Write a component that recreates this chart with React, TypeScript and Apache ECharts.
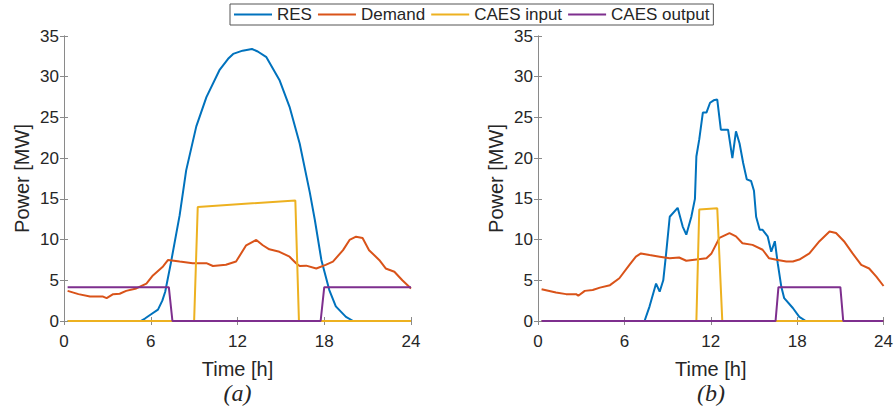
import React, { useEffect, useRef } from "react";
import * as echarts from "echarts";

// ---------- data (hours, MW) ----------
const xTicks = [0, 6, 12, 18, 24];
const yMax = 35;
const seriesNames = ["RES", "Demand", "CAES input", "CAES output"];
const seriesColors = ["#0072BD", "#D95319", "#EDB120", "#7E2F8E"];
const panelLabels = ["(a)", "(b)"];

const resA: number[][] = [
  [0.25, 0], [5.3, 0], [5.6, 0.3], [6.0, 0.8], [6.5, 1.4], [6.8, 2.5], [7.0, 3.6], [7.4, 7.2],
  [8.0, 13], [8.45, 18.5], [9.15, 23.9], [9.85, 27.5], [10.75, 30.8], [11.35, 32.2], [11.7, 32.8],
  [12.35, 33.2], [13.0, 33.4], [13.4, 33.1], [14.0, 32.4], [14.9, 29.6], [15.6, 26.3], [16.3, 21.8],
  [17.0, 15.8], [17.35, 12.4], [17.8, 7.5], [18.35, 3.8], [18.8, 1.8], [19.5, 0.5], [20.0, 0], [24, 0],
];
const demandA: number[][] = [
  [0.25, 3.7], [1.0, 3.3], [1.8, 3.0], [2.7, 3.0], [2.95, 2.8], [3.4, 3.3], [3.85, 3.35], [4.3, 3.7],
  [5.0, 4.0], [5.7, 4.6], [6.15, 5.6], [6.85, 6.7], [7.2, 7.5], [8.0, 7.3], [8.9, 7.1], [9.4, 7.1],
  [9.85, 7.1], [10.3, 6.75], [11.2, 6.9], [11.9, 7.3], [12.6, 9.3], [13.3, 9.95], [13.75, 9.3],
  [14.2, 8.8], [14.9, 8.5], [15.6, 7.9], [16.05, 7.1], [16.3, 6.75], [16.75, 6.8], [17.45, 6.45],
  [18.1, 6.9], [18.6, 7.3], [19.3, 8.7], [19.75, 9.95], [20.2, 10.35], [20.65, 10.2], [21.1, 8.7],
  [21.8, 7.5], [22.25, 6.45], [22.85, 6.05], [23.4, 5.0], [24, 4.0],
];
const caesInA: number[][] = [[0.25, 0], [9.0, 0], [9.25, 14], [16.0, 14.8], [16.25, 0], [24, 0]];
const caesOutA: number[][] = [[0.25, 4.15], [7.25, 4.15], [7.5, 0], [17.75, 0], [18.0, 4.15], [24, 4.15]];

const resB: number[][] = [
  [0.25, 0], [7.4, 0], [7.75, 1.8], [8.2, 4.6], [8.45, 3.6], [8.7, 5.0], [8.9, 8.3], [9.15, 12.8],
  [9.7, 13.9], [10.05, 11.6], [10.3, 10.6], [10.65, 12.8], [10.9, 15], [11.0, 20.2], [11.2, 22.3],
  [11.45, 25.6], [11.7, 25.6], [11.95, 26.8], [12.2, 27.1], [12.45, 27.2], [12.7, 23.5], [13.2, 23.5],
  [13.5, 20], [13.75, 23.3], [14.0, 21.8], [14.25, 19.4], [14.5, 17.4], [14.8, 17.2], [15.0, 16],
  [15.15, 12.8], [15.4, 11.2], [15.6, 11.2], [15.95, 10.4], [16.2, 8.5], [16.45, 9.8], [16.65, 7.1],
  [16.9, 4.2], [17.1, 2.8], [17.7, 1.6], [18.15, 0.5], [18.6, 0], [24, 0],
];
const demandB: number[][] = [
  [0.25, 3.9], [1.25, 3.5], [1.95, 3.3], [2.65, 3.3], [2.8, 3.1], [3.25, 3.7], [3.8, 3.8], [4.3, 4.1],
  [5.0, 4.4], [5.65, 5.25], [6.35, 6.9], [6.8, 7.9], [7.15, 8.3], [7.75, 8.1], [8.45, 7.9], [9.15, 7.7],
  [9.8, 7.8], [10.3, 7.4], [11.0, 7.55], [11.7, 7.7], [12.05, 8.3], [12.6, 10.2], [13.3, 10.8],
  [13.75, 10.4], [14.2, 9.55], [14.9, 9.35], [15.6, 8.75], [16.05, 7.7], [16.65, 7.5], [17.25, 7.3],
  [17.7, 7.3], [18.15, 7.55], [18.85, 8.3], [19.55, 9.8], [20.25, 11.0], [20.7, 10.8], [21.25, 9.8],
  [21.85, 8.3], [22.45, 6.9], [23.0, 6.45], [23.5, 5.45], [24, 4.3],
];
const caesInB: number[][] = [[0.25, 0], [11.0, 0], [11.2, 13.7], [12.45, 13.85], [12.8, 0], [24, 0]];
const caesOutB: number[][] = [[0.25, 0], [16.5, 0], [16.7, 4.15], [21.0, 4.15], [21.2, 0], [24, 0]];

const panels = [
  [resA, demandA, caesInA, caesOutA],
  [resB, demandB, caesInB, caesOutB],
];

// ---------- layout ----------
const FONT = "'Liberation Sans', Arial, sans-serif";
const TXT = "#262626";
const AXC = "#8a8a8a";
const grids = [
  { left: 64, top: 36, width: 347, height: 285 },
  { left: 538, top: 36, width: 346, height: 285 },
];

export default function App() {
  const ref = useRef<HTMLDivElement>(null);
  useEffect(() => {
    if (!ref.current) return;
    const chart = echarts.init(ref.current, undefined, { renderer: "svg" });
    const xAxis: any[] = [];
    const yAxis: any[] = [];
    const series: any[] = [];
    const graphic: any[] = [];
    grids.forEach((g, gi) => {
      const axisLine = { show: true, lineStyle: { color: AXC, width: 1 } };
      const axisTick = { show: true, inside: true, length: 4, lineStyle: { color: AXC } };
      xAxis.push({
        gridIndex: gi, type: "value", position: "bottom", min: xTicks[0], max: xTicks[xTicks.length - 1],
        interval: 6, axisLine, axisTick, splitLine: { show: false },
        axisLabel: { color: TXT, fontFamily: FONT, fontSize: 17, margin: 12 },
        name: "Time [h]", nameLocation: "middle", nameGap: 38,
        nameTextStyle: { color: TXT, fontFamily: FONT, fontSize: 20 },
      });
      xAxis.push({
        gridIndex: gi, type: "value", position: "top", min: 0, max: 24, interval: 6,
        axisLine, axisTick, splitLine: { show: false }, axisLabel: { show: false },
      });
      yAxis.push({
        gridIndex: gi, type: "value", position: "left", min: 0, max: yMax, interval: 5,
        axisLine, axisTick, splitLine: { show: false },
        axisLabel: { color: TXT, fontFamily: FONT, fontSize: 17, margin: 5 },
        name: "Power [MW]", nameLocation: "middle", nameGap: 32,
        nameTextStyle: { color: TXT, fontFamily: FONT, fontSize: 20 },
      });
      yAxis.push({
        gridIndex: gi, type: "value", position: "right", min: 0, max: yMax, interval: 5,
        axisLine, axisTick, splitLine: { show: false }, axisLabel: { show: false },
      });
      panels[gi].forEach((d, si) => {
        series.push({
          name: seriesNames[si], type: "line", data: d, xAxisIndex: gi * 2, yAxisIndex: gi * 2,
          symbol: "none", clip: false, lineStyle: { width: 2, color: seriesColors[si] },
          itemStyle: { color: seriesColors[si] },
        });
      });
      graphic.push({
        type: "text", x: g.left + g.width / 2, y: 393,
        style: {
          text: panelLabels[gi], fill: TXT, font: "italic 24px 'Liberation Serif', serif",
          align: "center", verticalAlign: "middle",
        },
      });
    });
    chart.setOption({
      animation: false,
      grid: grids.map((g) => ({ ...g, containLabel: false })),
      xAxis, yAxis, series, graphic,
      legend: {
        data: seriesNames, left: 230, top: 4, orient: "horizontal",
        itemWidth: 38, itemHeight: 2, itemGap: 6, icon: "rect",
        borderColor: "#555", borderWidth: 1, padding: [2, 4, 2, 4],
        textStyle: { color: TXT, fontFamily: FONT, fontSize: 17 },
      },
    });
    return () => chart.dispose();
  }, []);
  return <div ref={ref} style={{ position: "fixed", left: 0, top: 0, width: 896, height: 411, background: "#fff" }} />;
}
